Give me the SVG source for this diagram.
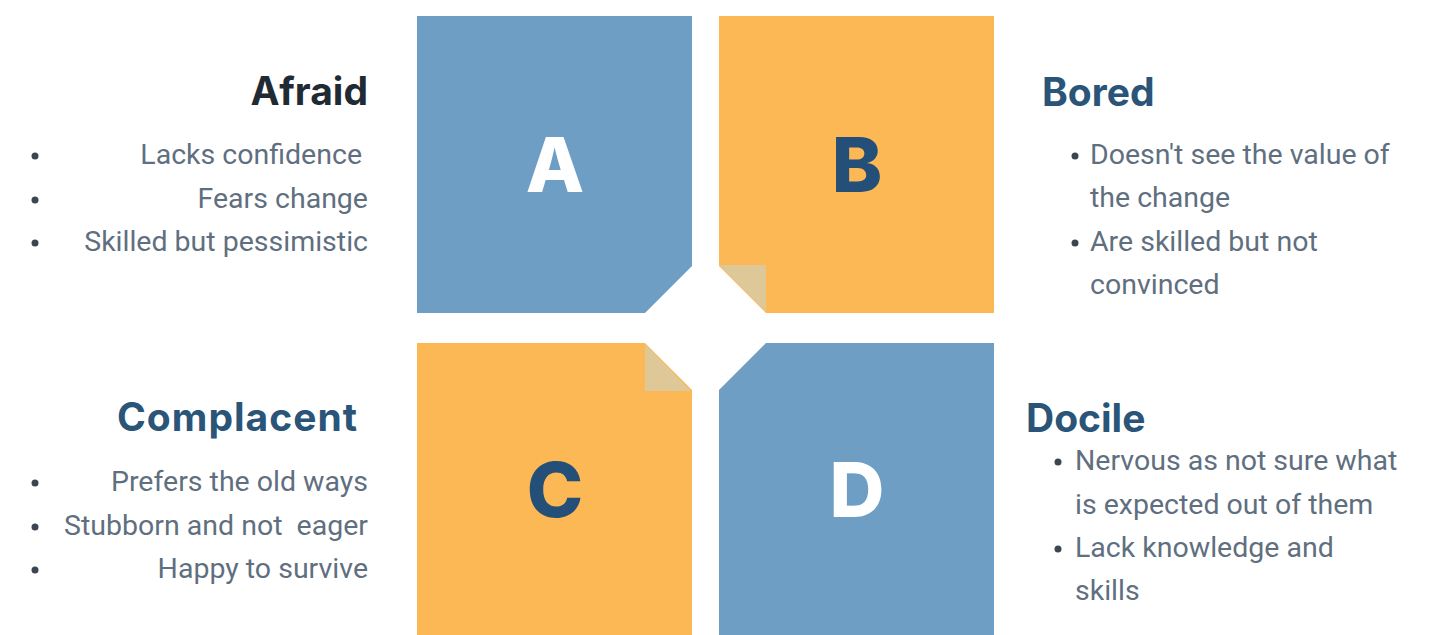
<svg xmlns="http://www.w3.org/2000/svg" width="1433" height="635" viewBox="0 0 1433 635">
<style>
.blue{fill:#6f9ec5}
.orange{fill:#fbb855}
.fold{fill:#dfc898}
.big{font-family:Inter,"Liberation Sans",sans-serif;font-weight:800;font-size:76px;text-anchor:middle}
.head{font-family:Inter,"Liberation Sans",sans-serif;font-weight:700;font-size:39px;fill:#2a5478}
.item{font-family:Roboto,"Liberation Sans",sans-serif;font-size:28.5px;fill:#5f6f80}
.dot{fill:#3b4652}
</style>
<rect width="1433" height="635" fill="#ffffff"/>
<g id="node-A">
<polygon class="blue" points="417,16 692,16 692,266 645,313 417,313"/>
<text class="big" x="555" y="192" fill="#ffffff">A</text>
</g>
<g id="node-B">
<polygon class="orange" points="719,16 994,16 994,313 766,313 719,266"/>
<polygon class="fold" points="719,265 766,265 766,312"/>
<text class="big" x="857" y="192" fill="#234f78">B</text>
</g>
<g id="node-C">
<polygon class="orange" points="417,343 645,343 692,390 692,635 417,635"/>
<polygon class="fold" points="645,344 645,391 691,391"/>
<text class="big" x="555" y="517" fill="#234f78">C</text>
</g>
<g id="node-D">
<polygon class="blue" points="766,343 994,343 994,635 719,635 719,390"/>
<text class="big" x="857" y="517" fill="#ffffff">D</text>
</g>
<g id="connectors"></g>
<g id="text-afraid">
<text class="head" x="368" y="105" text-anchor="end" style="fill:#1f2a33">Afraid</text>
<circle class="dot" cx="35" cy="156" r="3.5"/>
<circle class="dot" cx="35" cy="200" r="3.5"/>
<circle class="dot" cx="35" cy="243" r="3.5"/>
<text class="item" x="362" y="164" text-anchor="end">Lacks confidence</text>
<text class="item" x="368" y="208" text-anchor="end">Fears change</text>
<text class="item" x="368" y="251" text-anchor="end">Skilled but pessimistic</text>
</g>
<g id="text-bored">
<text class="head" x="1042" y="106">Bored</text>
<circle class="dot" cx="1075" cy="156" r="3.5"/>
<circle class="dot" cx="1075" cy="243" r="3.5"/>
<text class="item" x="1090" y="164">Doesn't see the value of</text>
<text class="item" x="1090" y="207">the change</text>
<text class="item" x="1090" y="251">Are skilled but not</text>
<text class="item" x="1090" y="294">convinced</text>
</g>
<g id="text-complacent">
<text class="head" x="357" y="431" text-anchor="end" textLength="240" lengthAdjust="spacing">Complacent</text>
<circle class="dot" cx="35" cy="483" r="3.5"/>
<circle class="dot" cx="35" cy="527" r="3.5"/>
<circle class="dot" cx="35" cy="570" r="3.5"/>
<text class="item" x="368" y="491" text-anchor="end">Prefers the old ways</text>
<text class="item" x="368" y="535" text-anchor="end" xml:space="preserve">Stubborn and not  eager</text>
<text class="item" x="368" y="578" text-anchor="end">Happy to survive</text>
</g>
<g id="text-docile">
<text class="head" x="1026" y="432">Docile</text>
<circle class="dot" cx="1058" cy="462" r="3.5"/>
<circle class="dot" cx="1058" cy="549" r="3.5"/>
<text class="item" x="1075" y="470">Nervous as not sure what</text>
<text class="item" x="1075" y="514">is expected out of them</text>
<text class="item" x="1075" y="557">Lack knowledge and</text>
<text class="item" x="1075" y="600">skills</text>
</g>
</svg>
